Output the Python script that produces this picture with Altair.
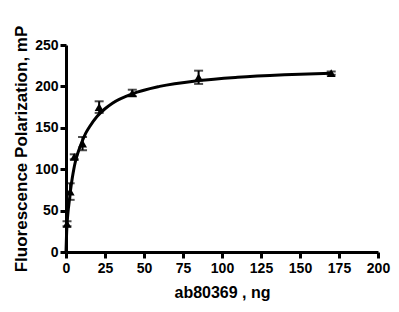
import altair as alt
import pandas as pd

# measured points
conc = [0.66, 2.66, 5.3, 10.6, 21.25, 42.5, 85, 170]
mp = [34, 73, 115, 131, 175, 192, 211, 216]
err = [3, 10, 3, 8, 7, 4, 8, 2]

# fitted curve
curve_x = [0, 0.3, 0.66, 1, 1.5, 2, 3, 4, 5, 6, 7.5, 10, 12.5, 15, 20, 25, 30, 42.5, 60, 85, 110, 140, 170]
curve_y = [0, 18, 33, 42, 52, 60, 76, 89, 100, 109, 119, 132, 143, 151, 164, 173, 180, 191, 200, 207, 211, 214, 216]

x_ticks = [0, 25, 50, 75, 100, 125, 150, 175, 200]
y_ticks = [0, 50, 100, 150, 200, 250]

pts = pd.DataFrame({"x": conc, "y": mp, "lo": [m - e for m, e in zip(mp, err)], "hi": [m + e for m, e in zip(mp, err)]})
cur = pd.DataFrame({"x": curve_x, "y": curve_y})

font = "Liberation Sans"
xs = alt.Scale(domain=[0, 200], nice=False)
ys = alt.Scale(domain=[0, 250], nice=False)

xax = alt.Axis(values=x_ticks, title="ab80369 , ng", grid=False,
               domainWidth=3, tickWidth=3, tickSize=6, domainColor="black", tickColor="black",
               labelFont=font, labelFontSize=14, labelFontWeight="bold", labelColor="black",
               titleFont=font, titleFontSize=16, titleFontWeight="bold", titleColor="black",
               labelPadding=3, titlePadding=9, labelFlush=False, labelOverlap=False)
yax = alt.Axis(values=y_ticks, title="Fluorescence Polarization, mP", grid=False,
               domainWidth=3, tickWidth=3, tickSize=6, domainColor="black", tickColor="black",
               labelFont=font, labelFontSize=14, labelFontWeight="bold", labelColor="black",
               titleFont=font, titleFontSize=17, titleFontWeight="bold", titleColor="black",
               labelPadding=2, titlePadding=4, labelFlush=False, labelOverlap=False)

X = alt.X("x:Q", scale=xs, axis=xax)

line = alt.Chart(cur).mark_line(color="black", strokeWidth=3, interpolate="monotone").encode(
    x=X, y=alt.Y("y:Q", scale=ys, axis=yax))
bars = alt.Chart(pts).mark_rule(color="black", strokeWidth=2).encode(
    x=X, y=alt.Y("lo:Q", scale=ys, axis=yax), y2="hi:Q")
cap_hi = alt.Chart(pts).mark_tick(color="black", orient="horizontal", size=9, thickness=2).encode(
    x=X, y=alt.Y("hi:Q", scale=ys, axis=yax))
cap_lo = alt.Chart(pts).mark_tick(color="black", orient="horizontal", size=9, thickness=2).encode(
    x=X, y=alt.Y("lo:Q", scale=ys, axis=yax))
marks = alt.Chart(pts).mark_point(shape="triangle-up", filled=True, color="black", size=80, opacity=1).encode(
    x=X, y=alt.Y("y:Q", scale=ys, axis=yax))

chart = alt.layer(line, bars, cap_hi, cap_lo, marks).properties(
    width=312, height=207,
    autosize=alt.AutoSizeParams(type="none"),
    padding={"left": 66, "top": 45, "right": 21, "bottom": 60},
    background="white",
).configure_view(stroke=None)

chart.save("out.html", embed_options={"renderer": "svg", "actions": False})
